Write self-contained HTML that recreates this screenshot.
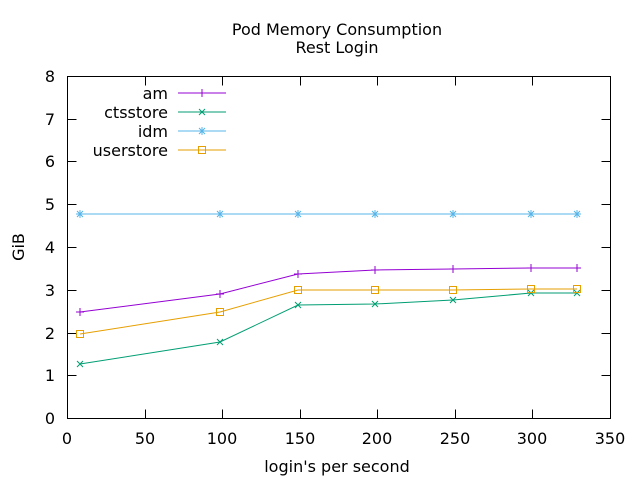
<!DOCTYPE html>
<html><head><style>body{margin:0;background:#fff}svg{display:block}text{font-family:"DejaVu Sans",sans-serif;fill:#000}</style></head>
<body>
<svg width="640" height="480" viewBox="0 0 640 480" xmlns="http://www.w3.org/2000/svg">
<rect x="67.5" y="76.5" width="543" height="342" fill="none" stroke="#000" stroke-width="1"/>
<g stroke="#000" stroke-width="1">
<path d="M67.5 418.5h9M610.5 418.5h-9M67.5 375.5h9M610.5 375.5h-9M67.5 333.5h9M610.5 333.5h-9M67.5 290.5h9M610.5 290.5h-9M67.5 247.5h9M610.5 247.5h-9M67.5 204.5h9M610.5 204.5h-9M67.5 161.5h9M610.5 161.5h-9M67.5 119.5h9M610.5 119.5h-9M67.5 76.5h9M610.5 76.5h-9"/>
<path d="M67.5 418.5v-9M67.5 76.5v9M145.5 418.5v-9M145.5 76.5v9M222.5 418.5v-9M222.5 76.5v9M300.5 418.5v-9M300.5 76.5v9M377.5 418.5v-9M377.5 76.5v9M455.5 418.5v-9M455.5 76.5v9M532.5 418.5v-9M532.5 76.5v9M610.5 418.5v-9M610.5 76.5v9"/>
</g>
<g font-size="16" text-anchor="end">
<text x="55" y="424">0</text><text x="55" y="381">1</text><text x="55" y="339">2</text><text x="55" y="296">3</text><text x="55" y="253">4</text><text x="55" y="210">5</text><text x="55" y="167">6</text><text x="55" y="125">7</text><text x="55" y="82">8</text>
</g>
<g font-size="16" text-anchor="middle">
<text x="67" y="444">0</text><text x="145" y="444">50</text><text x="222" y="444">100</text><text x="300" y="444">150</text><text x="377" y="444">200</text><text x="455" y="444">250</text><text x="532" y="444">300</text><text x="610" y="444">350</text>
<text x="337" y="472">login's per second</text>
<text x="337" y="35">Pod Memory Consumption</text>
<text x="337" y="53">Rest Login</text>
<text transform="translate(24,247) rotate(-90)">GiB</text>
</g>
<g font-size="16" text-anchor="end">
<text x="168" y="99">am</text><text x="168" y="118">ctsstore</text><text x="168" y="137">idm</text><text x="168" y="156">userstore</text>
</g>
<g fill="none" stroke-width="1">
<path stroke="#9400d3" d="M178 93h48M80 312L220 294L298 274L375 270L453 269L531 268L577 268"/>
<path stroke="#009e73" d="M178 112h48M80 364L220 342L298 305L375 304L453 300L531 293L577 293"/>
<path stroke="#56b4e9" d="M178 131h48M80 214L577 214"/>
<path stroke="#e69f00" d="M178 150h48M80 334L220 312L298 290L375 290L453 290L531 289L577 289"/>
</g>
<g stroke="#9400d3" fill="none"><path d="M198 93h8M202 89v8M76 312h8M80 308v8M216 294h8M220 290v8M294 274h8M298 270v8M371 270h8M375 266v8M449 269h8M453 265v8M527 268h8M531 264v8M573 268h8M577 264v8"/></g>
<g stroke="#009e73" fill="none"><path d="M199 109l6 6M205 109l-6 6M77 361l6 6M83 361l-6 6M217 339l6 6M223 339l-6 6M295 302l6 6M301 302l-6 6M372 301l6 6M378 301l-6 6M450 297l6 6M456 297l-6 6M528 290l6 6M534 290l-6 6M574 290l6 6M580 290l-6 6"/></g>
<g stroke="#56b4e9" fill="none"><path d="M198 131h8M202 127v8M199 128l6 6M205 128l-6 6"/>
<path d="M76 214h8M80 210v8M77 211l6 6M83 211l-6 6M216 214h8M220 210v8M217 211l6 6M223 211l-6 6M294 214h8M298 210v8M295 211l6 6M301 211l-6 6M371 214h8M375 210v8M372 211l6 6M378 211l-6 6M449 214h8M453 210v8M450 211l6 6M456 211l-6 6M527 214h8M531 210v8M528 211l6 6M534 211l-6 6M573 214h8M577 210v8M574 211l6 6M580 211l-6 6"/></g>
<g stroke="#e69f00" fill="none"><rect x="198.5" y="146.5" width="7" height="7"/><rect x="76.5" y="330.5" width="7" height="7"/><rect x="216.5" y="308.5" width="7" height="7"/><rect x="294.5" y="286.5" width="7" height="7"/><rect x="371.5" y="286.5" width="7" height="7"/><rect x="449.5" y="286.5" width="7" height="7"/><rect x="527.5" y="285.5" width="7" height="7"/><rect x="573.5" y="285.5" width="7" height="7"/></g>
</svg>
</body></html>
